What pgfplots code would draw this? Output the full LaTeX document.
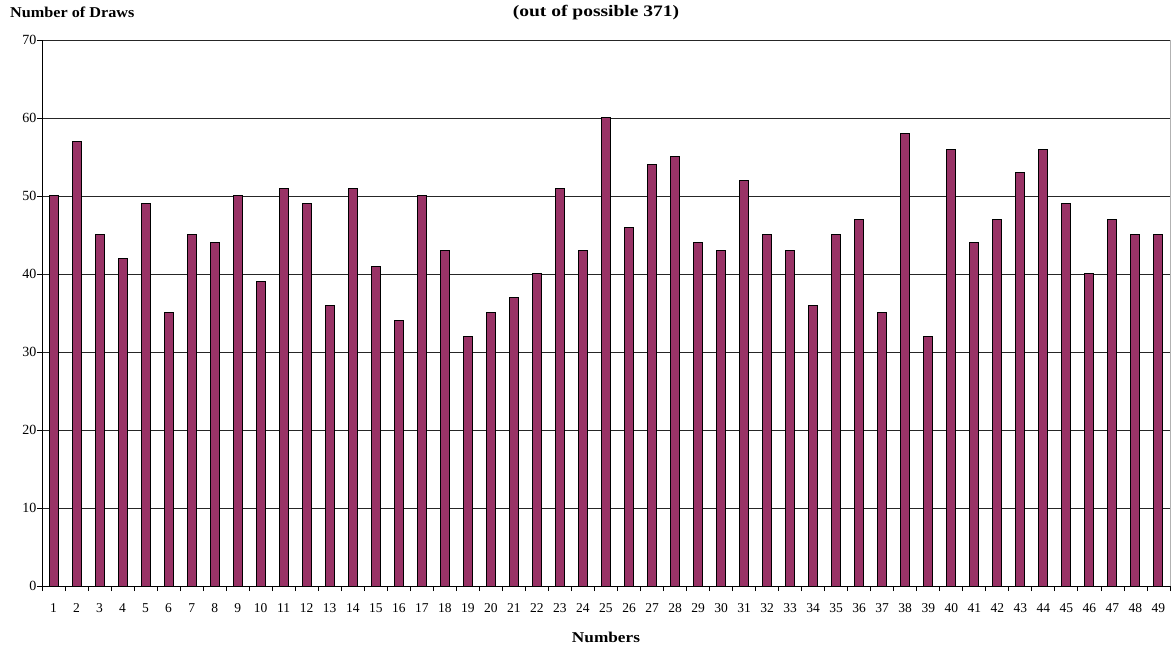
\documentclass[border=0pt]{standalone}
\usepackage{pgfplots}
\pgfplotsset{compat=1.18}
\usepackage{fontspec}
\setmainfont{Liberation Serif}
\definecolor{plum}{HTML}{993366}

\pgfplotstableread{
n draws
1 50
2 57
3 45
4 42
5 49
6 35
7 45
8 44
9 50
10 39
11 51
12 49
13 36
14 51
15 41
16 34
17 50
18 43
19 32
20 35
21 37
22 40
23 51
24 43
25 60
26 46
27 54
28 55
29 44
30 43
31 52
32 45
33 43
34 36
35 45
36 47
37 35
38 58
39 32
40 56
41 44
42 47
43 53
44 56
45 49
46 40
47 47
48 45
49 45
}\draws

\begin{document}
\begin{tikzpicture}[x=1pt,y=1pt]
  % fixes the page to the reference's size
  \path (0,0) rectangle (1172,651);
  \begin{axis}[
      at={(42pt,65pt)}, anchor=south west,
      scale only axis,
      width=1128pt, height=546pt,
      xmin=0.5, xmax=49.5,
      ymin=0, ymax=70,
      axis x line=bottom, axis y line=left,
      axis line style={black, line width=0.8pt, -},
      xtick={1,...,49},
      minor xtick={0.5,1.5,...,49.5},
      ytick={0,10,...,70},
      tick align=outside,
      major x tick style={draw=none},
      minor tick length=5pt, major tick length=5pt,
      tick style={black, line width=0.8pt},
      ymajorgrids,
      major grid style={black!85, line width=0.7pt},
      /pgf/number format/assume math mode=true,
      xticklabel style={font=\fontsize{13.5}{15}\selectfont, yshift=-9pt},
      yticklabel style={font=\fontsize{14}{16}\selectfont, xshift=3pt},
      xlabel={\scalebox{1.15}[1]{Numbers}},
      xlabel style={font=\bfseries\fontsize{15}{17}\selectfont,
                    at={(axis description cs:0.5,0)}, anchor=center, yshift=-51pt},
      clip=false,
    ]
    \addplot[ybar, bar width=9pt, bar shift=0pt, fill=plum, draw=black, line width=1pt]
      table[x=n, y=draws] {\draws};
    \draw[gray!60, line width=0.8pt] (rel axis cs:1,0) -- (rel axis cs:1,1);
  \end{axis}
  \node[font=\bfseries\fontsize{15}{17}\selectfont, anchor=west, inner sep=0pt]
    at (10,639) {\scalebox{1.08}[1]{Number of Draws}};
  \node[font=\bfseries\fontsize{16}{18}\selectfont, inner sep=0pt]
    at (596,638) {\scalebox{1.22}[1]{(out of possible 371)}};
\end{tikzpicture}
\end{document}
